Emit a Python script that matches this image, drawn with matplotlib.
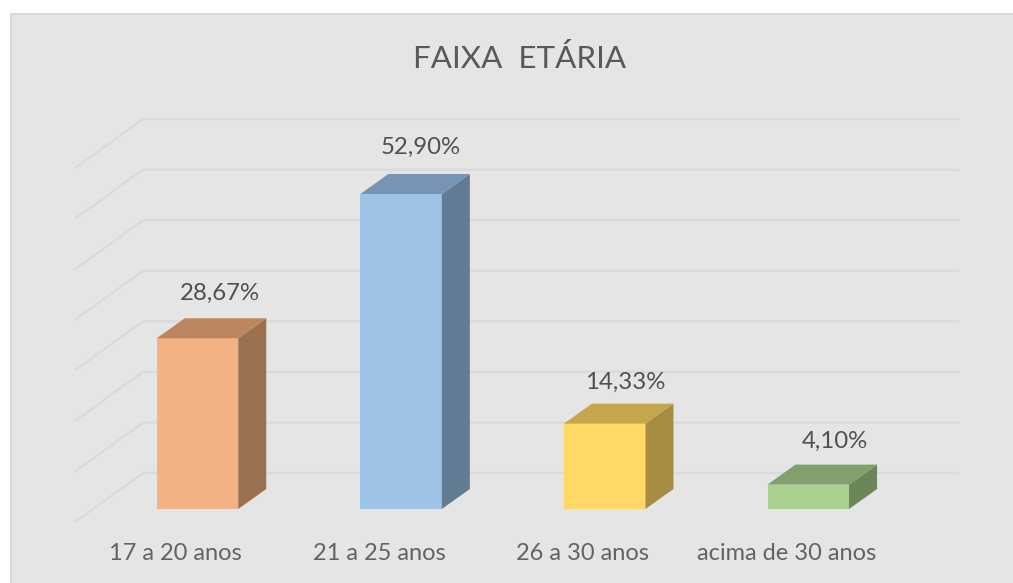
import matplotlib
matplotlib.use("Agg")
import matplotlib.pyplot as plt
from matplotlib.patches import Polygon, Rectangle
import numpy as np

# Dados do gráfico
titulo = "FAIXA  ETÁRIA"
categorias = ["17 a 20 anos", "21 a 25 anos", "26 a 30 anos", "acima de 30 anos"]
valores = [28.67, 52.90, 14.33, 4.10]
rotulos = ["28,67%", "52,90%", "14,33%", "4,10%"]
marcas_parede = [0, 10, 20, 30, 40, 50, 60, 70]

cores_frente = ["#F4B183", "#9DC3E6", "#FFD966", "#A9D18E"]
cores_topo = ["#BC8660", "#7694B4", "#C4A64D", "#82A06C"]
cores_lado = ["#9C7150", "#647B94", "#A58C40", "#6C8559"]

# ajuste fino dos rótulos, em pixels
rotulo_dx = [22, 19.5, 20.5, 26.5]
rotulo_dy = [25, 27, 21, 23]

W, H = 1013, 583
plt.rcParams["font.family"] = ["Lato", "DejaVu Sans"]

fig = plt.figure(figsize=(W / 100, H / 100), dpi=100, facecolor="white")
ax = fig.add_axes([0, 0, 1, 1])

# escala: 203.6 px por categoria, 5.955 px por ponto percentual
px_x = 203.6
px_y = 5.955
x0_px = 197.5
y0_px = 509
ax.set_xlim(-x0_px / px_x, (W - x0_px) / px_x)
ax.set_ylim(-(H - y0_px) / px_y, y0_px / px_y)
ax.axis("off")

def xd(p):
    return (p - x0_px) / px_x

def yd(p):
    return (y0_px - p) / px_y

# fundo do gráfico
ax.add_patch(Rectangle((xd(10.5), yd(H + 5)), (W + 5) / px_x, (H - 8.5) / px_y,
                       facecolor="#E5E5E5", edgecolor="#DADADA", linewidth=1.5, zorder=0))

# parede do fundo: 10% equivale a 50.55 px, com base em y=473
parede_px = 50.55 / 10
for m in marcas_parede:
    y_px = 473 - m * parede_px
    ax.plot([xd(75), xd(143), xd(959)],
            [yd(y_px + 49), yd(y_px), yd(y_px)],
            color="#DADADA", linewidth=1.6, solid_capstyle="butt", zorder=1)

# barras 3D
largura = 81.5 / px_x
dx = 28 / px_x
dy = 20 / px_y
pos = np.arange(len(valores))
ax.bar(pos, valores, width=largura, color=cores_frente, zorder=3, linewidth=0)
for i, v in enumerate(valores):
    dir_ = i + largura / 2
    esq = i - largura / 2
    ax.add_patch(Polygon([(dir_, 0), (dir_ + dx, dy), (dir_ + dx, v + dy), (dir_, v)],
                         facecolor=cores_lado[i], edgecolor="none", zorder=3))
    ax.add_patch(Polygon([(esq, v), (esq + dx, v + dy), (dir_ + dx, v + dy), (dir_, v)],
                         facecolor=cores_topo[i], edgecolor="none", zorder=3))
    ax.text(i + rotulo_dx[i] / px_x, v + dy + rotulo_dy[i] / px_y, rotulos[i], ha="center", va="center",
            fontsize=17.3, color="#505050", zorder=4)
    ax.text(i - 22 / px_x, yd(554), categorias[i], ha="center", va="center",
            fontsize=17, color="#636363", zorder=4)

ax.text(xd(519.5), yd(58), titulo, ha="center", va="center", fontsize=22.6,
        color="#595959", zorder=4)

fig.savefig("out.png", dpi=100, facecolor="white")
